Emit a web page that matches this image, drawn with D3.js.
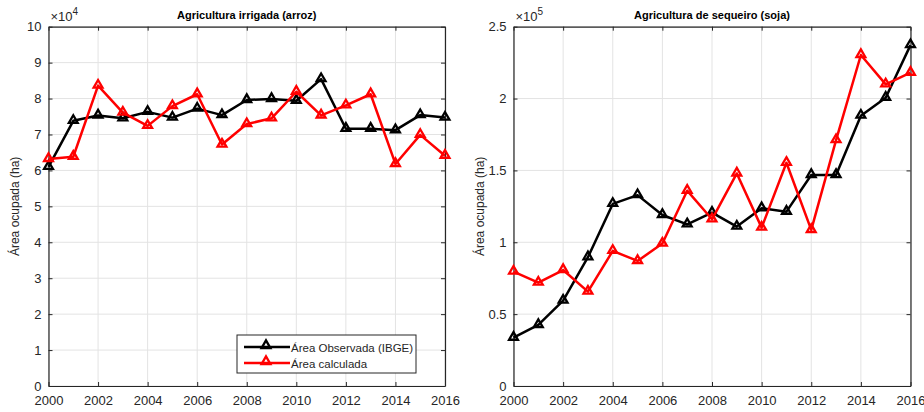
<!DOCTYPE html>
<html>
<head>
<meta charset="utf-8">
<script src="https://cdn.jsdelivr.net/npm/d3@7"></script>
<style>
  html, body { margin: 0; padding: 0; background: #fff; }
  svg { display: block; font-family: "Liberation Sans", Arial, Helvetica, sans-serif; }
</style>
</head>
<body>
<svg id="chart" width="924" height="412"></svg>
<script>
// Years on the x axis
const years = [2000, 2001, 2002, 2003, 2004, 2005, 2006, 2007, 2008, 2009, 2010, 2011, 2012, 2013, 2014, 2015, 2016];

// Irrigated rice area (ha), scaled by 1e4
const arrozObservada = [6.10, 7.38, 7.53, 7.45, 7.63, 7.47, 7.72, 7.54, 7.96, 7.99, 7.94, 8.54, 7.16, 7.16, 7.12, 7.54, 7.47];
const arrozCalculada = [6.32, 6.38, 8.36, 7.61, 7.24, 7.79, 8.12, 6.72, 7.29, 7.45, 8.19, 7.53, 7.81, 8.12, 6.18, 6.99, 6.41];

// Rainfed soybean area (ha), scaled by 1e5
const sojaObservada = [0.336, 0.425, 0.594, 0.896, 1.267, 1.328, 1.190, 1.125, 1.206, 1.109, 1.237, 1.213, 1.468, 1.468, 1.881, 2.006, 2.372];
const sojaCalculada = [0.796, 0.719, 0.807, 0.657, 0.940, 0.870, 0.991, 1.359, 1.160, 1.479, 1.102, 1.553, 1.086, 1.711, 2.303, 2.099, 2.180];

// Tick labels
const xTicks = [2000, 2002, 2004, 2006, 2008, 2010, 2012, 2014, 2016];
const yTicksArroz = [0, 1, 2, 3, 4, 5, 6, 7, 8, 9, 10];
const yTicksSoja = [0, 0.5, 1, 1.5, 2, 2.5];

const seriesNames = ["Área Observada (IBGE)", "Área calculada"];
const seriesColors = ["#000000", "#ff0000"];

const svg = d3.select("#chart");
const axisColor = "#262626";
const gridColor = "#e3e3e3";

function drawPanel(opts) {
  const { left, right, top, bottom, yMax, yTicks, exponent, title, obs, calc, legend } = opts;
  const g = svg.append("g");
  const x = d3.scaleLinear().domain([2000, 2016]).range([left, right]);
  const y = d3.scaleLinear().domain([0, yMax]).range([bottom, top]);

  // grid
  g.append("g").selectAll("line.vx").data(xTicks).join("line")
    .attr("x1", d => x(d)).attr("x2", d => x(d))
    .attr("y1", top).attr("y2", bottom)
    .attr("stroke", gridColor).attr("stroke-width", 1);
  g.append("g").selectAll("line.hy").data(yTicks).join("line")
    .attr("x1", left).attr("x2", right)
    .attr("y1", d => y(d)).attr("y2", d => y(d))
    .attr("stroke", gridColor).attr("stroke-width", 1);

  // axes (bottom & left with labels, inward ticks)
  const xAxis = d3.axisBottom(x).tickValues(xTicks).tickFormat(d3.format("d")).tickSizeInner(-4).tickSizeOuter(0).tickPadding(10);
  const yAxis = d3.axisLeft(y).tickValues(yTicks).tickFormat(d => String(d)).tickSizeInner(-4).tickSizeOuter(0).tickPadding(7);
  const xa = g.append("g").attr("transform", `translate(0,${bottom})`).call(xAxis);
  const ya = g.append("g").attr("transform", `translate(${left},0)`).call(yAxis);
  [xa, ya].forEach(a => {
    a.select(".domain").attr("stroke", axisColor).attr("stroke-width", 1.2);
    a.selectAll(".tick line").attr("stroke", axisColor);
    a.selectAll(".tick text").attr("fill", axisColor).attr("font-size", 13);
  });
  // top & right box edges with inward ticks
  const xTop = d3.axisTop(x).tickValues(xTicks).tickFormat("").tickSizeInner(-4).tickSizeOuter(0);
  const yRight = d3.axisRight(y).tickValues(yTicks).tickFormat("").tickSizeInner(-4).tickSizeOuter(0);
  const xt = g.append("g").attr("transform", `translate(0,${top})`).call(xTop);
  const yr = g.append("g").attr("transform", `translate(${right},0)`).call(yRight);
  [xt, yr].forEach(a => {
    a.select(".domain").attr("stroke", axisColor).attr("stroke-width", 1.2);
    a.selectAll(".tick line").attr("stroke", axisColor);
  });

  // exponent label
  const ex = g.append("text").attr("x", left + 2).attr("y", top - 6)
    .attr("fill", axisColor).attr("font-size", 13);
  ex.append("tspan").text("×10");
  ex.append("tspan").attr("dy", -6).attr("font-size", 10).text(exponent);

  // title
  g.append("text").attr("x", (left + right) / 2).attr("y", top - 8)
    .attr("text-anchor", "middle").attr("font-size", 11).attr("font-weight", "bold")
    .attr("fill", "#000").text(title);

  // y label
  g.append("text")
    .attr("transform", `translate(${left - 30},${(top + bottom) / 2}) rotate(-90)`)
    .attr("text-anchor", "middle").attr("font-size", 12).attr("fill", axisColor)
    .text("Área ocupada (ha)");

  const line = d3.line().x((d, i) => x(years[i])).y(d => y(d));
  const tri = d3.symbol().type(d3.symbolTriangle).size(34);

  [obs, calc].forEach((vals, k) => {
    const col = seriesColors[k];
    g.append("path").datum(vals).attr("d", line)
      .attr("fill", "none").attr("stroke", col).attr("stroke-width", 2.5)
      .attr("stroke-linejoin", "round");
    g.append("g").selectAll("path").data(vals).join("path")
      .attr("d", tri)
      .attr("transform", (d, i) => `translate(${x(years[i])},${y(d) - 0.5})`)
      .attr("fill", "none").attr("stroke", col).attr("stroke-width", 2.3);
  });

  if (legend) {
    const lx = 237, ly = 335, lw = 179, lh = 38;
    const lg = g.append("g");
    lg.append("rect").attr("x", lx).attr("y", ly).attr("width", lw).attr("height", lh)
      .attr("fill", "#fff").attr("stroke", axisColor).attr("stroke-width", 1);
    seriesNames.forEach((name, k) => {
      const yy = ly + 12 + k * 16;
      lg.append("line").attr("x1", lx + 7).attr("x2", lx + 53).attr("y1", yy).attr("y2", yy)
        .attr("stroke", seriesColors[k]).attr("stroke-width", 2.5);
      lg.append("path").attr("d", tri).attr("transform", `translate(${lx + 29},${yy - 1.5})`)
        .attr("fill", "none").attr("stroke", seriesColors[k]).attr("stroke-width", 2.3);
      lg.append("text").attr("x", lx + 54).attr("y", yy + 4.5)
        .attr("font-size", 11.5).attr("fill", axisColor).text(name);
    });
  }
}

drawPanel({
  left: 48.5, right: 445, top: 26.7, bottom: 386,
  yMax: 10, yTicks: yTicksArroz, exponent: "4",
  title: "Agricultura irrigada (arroz)",
  obs: arrozObservada, calc: arrozCalculada, legend: true
});

drawPanel({
  left: 513.5, right: 910.5, top: 26.7, bottom: 386,
  yMax: 2.5, yTicks: yTicksSoja, exponent: "5",
  title: "Agricultura de sequeiro (soja)",
  obs: sojaObservada, calc: sojaCalculada, legend: false
});
</script>
</body>
</html>
